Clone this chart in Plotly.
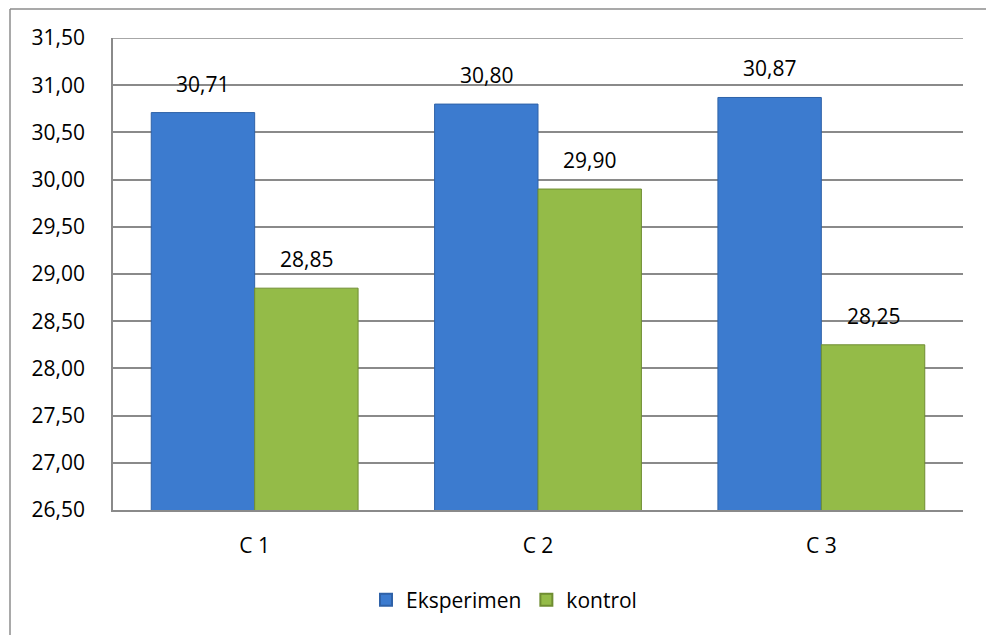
import plotly.graph_objects as go

categories = ["C 1", "C 2", "C 3"]
eksperimen = [30.71, 30.80, 30.87]
kontrol = [28.85, 29.90, 28.25]
label_eks = ["30,71", "30,80", "30,87"]
label_kon = ["28,85", "29,90", "28,25"]
y_ticks = [26.5, 27.0, 27.5, 28.0, 28.5, 29.0, 29.5, 30.0, 30.5, 31.0, 31.5]
y_ticktext = ["26,50", "27,00", "27,50", "28,00", "28,50", "29,00", "29,50", "30,00", "30,50", "31,00", "31,50"]

W, H = 986, 635
L, R, T, B = 113, 23, 38, 125
pw, ph = W - L - R, H - T - B

FONT = "Open Sans"
BLUE = "#3c7bcf"
GREEN = "#94bb48"
GRID = "#8a8a8a"
BARGAP = 0.27
half = (1 - BARGAP) / 4

xs = list(range(len(categories)))

fig = go.Figure()
fig.add_trace(go.Bar(
    x=xs, y=eksperimen, name="Eksperimen", showlegend=False, legendgroup="e",
    marker=dict(color=BLUE, line=dict(color="#2f62a8", width=1)),
))
fig.add_trace(go.Bar(
    x=xs, y=kontrol, name="kontrol", showlegend=False, legendgroup="k",
    marker=dict(color=GREEN, line=dict(color="#6f8d32", width=1)),
))
# legend entries with larger square swatches
fig.add_trace(go.Scatter(x=[None], y=[None], mode="markers", name="Eksperimen", legendgroup="e",
                         marker=dict(symbol="square", size=16, color=BLUE,
                                     line=dict(color="#2f62a8", width=1))))
fig.add_trace(go.Scatter(x=[None], y=[None], mode="markers", name="kontrol", legendgroup="k",
                         marker=dict(symbol="square", size=16, color=GREEN,
                                     line=dict(color="#6f8d32", width=1))))

annotations = []
for i in xs:
    annotations.append(dict(x=i - half, y=eksperimen[i], text=label_eks[i], showarrow=False,
                            yanchor="bottom", yshift=13, font=dict(size=21, color="#000", family=FONT)))
    annotations.append(dict(x=i + half, y=kontrol[i], text=label_kon[i], showarrow=False,
                            yanchor="bottom", yshift=13, font=dict(size=21, color="#000", family=FONT)))

# outer chart border (left and top visible)
bx0 = (10 - L) / pw
by1 = (H - B - 9) / ph
shapes = [
    dict(type="line", xref="paper", yref="paper", x0=bx0, x1=bx0, y0=-2, y1=by1,
         line=dict(color="#8c8c8c", width=1.5)),
    dict(type="line", xref="paper", yref="paper", x0=bx0, x1=2, y0=by1, y1=by1,
         line=dict(color="#8c8c8c", width=1.5)),
    # top gridline at the end of the range
    dict(type="line", xref="paper", yref="y", x0=0, x1=1, y0=y_ticks[-1], y1=y_ticks[-1],
         line=dict(color=GRID, width=1.5), layer="below"),
]

fig.update_layout(
    width=W, height=H,
    margin=dict(l=L, r=R, t=T, b=B, pad=0),
    paper_bgcolor="white", plot_bgcolor="white",
    barmode="group", bargap=BARGAP, bargroupgap=0,
    font=dict(family=FONT, size=21, color="#000"),
    showlegend=True,
    legend=dict(orientation="h", x=(504 - L) / pw, xanchor="center", y=(H - B - 600) / ph, yanchor="middle",
                font=dict(size=21, family=FONT), itemwidth=30, itemsizing="constant",
                traceorder="normal", tracegroupgap=0),
    annotations=annotations,
    shapes=shapes,
    xaxis=dict(tickmode="array", tickvals=xs, ticktext=categories, range=[-0.5, 2.5],
               showline=True, linecolor=GRID, linewidth=1.5, showgrid=False, ticks="",
               tickfont=dict(size=21, family=FONT), ticklabelstandoff=16),
    yaxis=dict(range=[26.5, 31.5], tickmode="array", tickvals=y_ticks, ticktext=y_ticktext,
               showline=True, linecolor=GRID, linewidth=1.5, showgrid=True, gridcolor=GRID,
               gridwidth=1.5, ticks="outside", ticklen=0, tickfont=dict(size=21, family=FONT),
               zeroline=False, ticklabelstandoff=22),
)

fig.write_html("out.html")
